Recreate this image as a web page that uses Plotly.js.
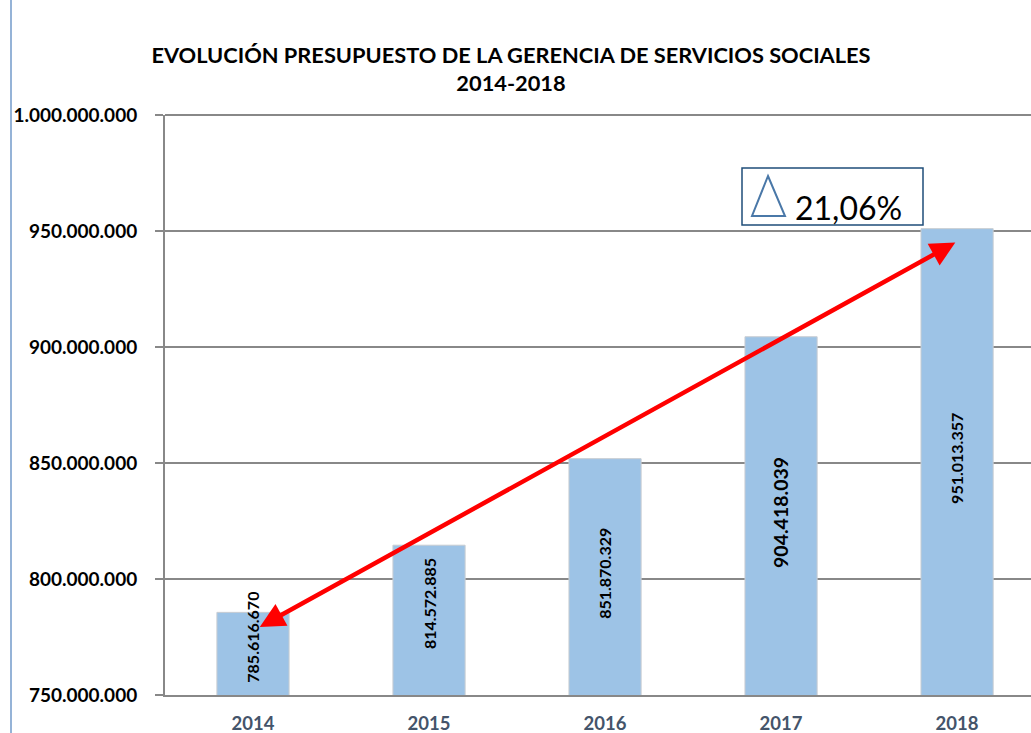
<!DOCTYPE html>
<html>
<head>
<meta charset="utf-8">
<script src="https://cdn.plot.ly/plotly-3.0.1.min.js"></script>
<style>html,body{margin:0;padding:0;background:#fff;}#chart{width:1031px;height:733px;}</style>
</head>
<body>
<div id="chart"></div>
<script>
const years = ['2014', '2015', '2016', '2017', '2018'];
const budget = [785616670, 814572885, 851870329, 904418039, 951013357];
const budgetLabels = ['785.616.670', '814.572.885', '851.870.329', '904.418.039', '951.013.357'];
const labelSizes = [16, 16, 16, 19.5, 16];
const yTickVals = [750000000, 800000000, 850000000, 900000000, 950000000, 1000000000];
const yTickText = ['750.000.000', '800.000.000', '850.000.000', '900.000.000', '950.000.000', '1.000.000.000'];
const growthText = '21,06%';
const arrowStart = {x: 0.03, y: 779000000};
const arrowEnd = {x: 3.99, y: 945000000};

const W = 1031, H = 733;
const L = 165, R = 0, T = 115, B = 38;
const pw = W - L - R, ph = H - T - B;
const px = v => (v - L) / pw;
const py = v => (H - B - v) / ph;
const yMin = 750000000, yMax = 1000000000;

const font = 'Lato, "Open Sans", sans-serif';

const trace = {
  type: 'bar',
  x: years,
  y: budget,
  width: 0.41,
  marker: {color: '#9DC3E6', line: {color: '#C8CDD2', width: 1}},
  hoverinfo: 'none'
};

// category axis: annotation x given as the category index; labels centred in bar,
// nudged upward on short bars so they stay clear of the axis
const labelAnnotations = years.map((yr, i) => {
  const barPx = (budget[i] - yMin) / (yMax - yMin) * ph;
  return {
    x: i, y: (yMin + budget[i]) / 2, xref: 'x', yref: 'y',
    yshift: barPx < 160 ? 16 : 3,
    text: '<b>' + budgetLabels[i] + '</b>', showarrow: false, textangle: -90,
    xanchor: 'center', yanchor: 'middle',
    font: {family: font, size: labelSizes[i], color: '#000'}
  };
});

const layout = {
  width: W, height: H,
  margin: {l: L, r: R, t: T, b: B},
  paper_bgcolor: '#fff', plot_bgcolor: '#fff',
  showlegend: false,
  title: {
    text: '<b>EVOLUCIÓN PRESUPUESTO DE LA GERENCIA DE SERVICIOS SOCIALES</b><br><b>2014-2018</b>',
    font: {family: font, size: 21.8, color: '#000'},
    x: px(511), xref: 'paper', xanchor: 'center', y: 1 - 63 / H, yanchor: 'middle'
  },
  xaxis: {
    type: 'category',
    range: [-0.5, 4.42],
    showgrid: false,
    showline: true, linecolor: '#888', linewidth: 2,
    ticks: '',
    ticklabelstandoff: 11,
    tickfont: {family: font, size: 18.5, color: '#44546A', weight: 'bold'},
    fixedrange: true
  },
  yaxis: {
    range: [yMin, yMax],
    tickvals: yTickVals,
    ticktext: yTickText,
    showgrid: true, gridcolor: '#888', gridwidth: 2,
    showline: true, linecolor: '#888', linewidth: 2,
    ticks: 'outside', ticklen: 8, tickcolor: '#888', tickwidth: 2,
    ticklabelstandoff: 14,
    tickfont: {family: font, size: 19, color: '#000', weight: 'bold'},
    zeroline: false,
    fixedrange: true
  },
  shapes: [
    {type: 'line', xref: 'paper', yref: 'paper', x0: px(11), x1: px(11), y0: py(0), y1: py(733),
     line: {color: '#95B3D7', width: 2}},
    {type: 'line', xref: 'paper', yref: 'paper', x0: 0, x1: 1, y0: 1, y1: 1,
     line: {color: '#888', width: 2}},
    {type: 'rect', xref: 'paper', yref: 'paper', x0: px(742), x1: px(923), y0: py(225), y1: py(168),
     line: {color: '#1F4E79', width: 1.5}, fillcolor: 'rgba(255,255,255,0)'},
    {type: 'path', xref: 'paper', yref: 'paper',
     path: 'M ' + px(768) + ' ' + py(176) + ' L ' + px(785) + ' ' + py(216) + ' L ' + px(752) + ' ' + py(216) + ' Z',
     line: {color: '#4A78A8', width: 2}, fillcolor: 'rgba(255,255,255,0)'}
  ],
  annotations: labelAnnotations.concat([
    {xref: 'paper', yref: 'paper', x: px(848), y: py(207), xanchor: 'center', yanchor: 'middle',
     text: growthText, showarrow: false,
     font: {family: font, size: 32, color: '#000'}},
    {x: arrowEnd.x, y: arrowEnd.y, xref: 'x', yref: 'y',
     ax: arrowStart.x, ay: arrowStart.y, axref: 'x', ayref: 'y',
     text: '', showarrow: true, arrowhead: 2, startarrowhead: 2, arrowside: 'end+start',
     arrowsize: 1.1, startarrowsize: 1.1, arrowwidth: 4.5, arrowcolor: '#FF0000'}
  ])
};

Plotly.newPlot('chart', [trace], layout, {displayModeBar: false, staticPlot: true});
</script>
</body>
</html>
